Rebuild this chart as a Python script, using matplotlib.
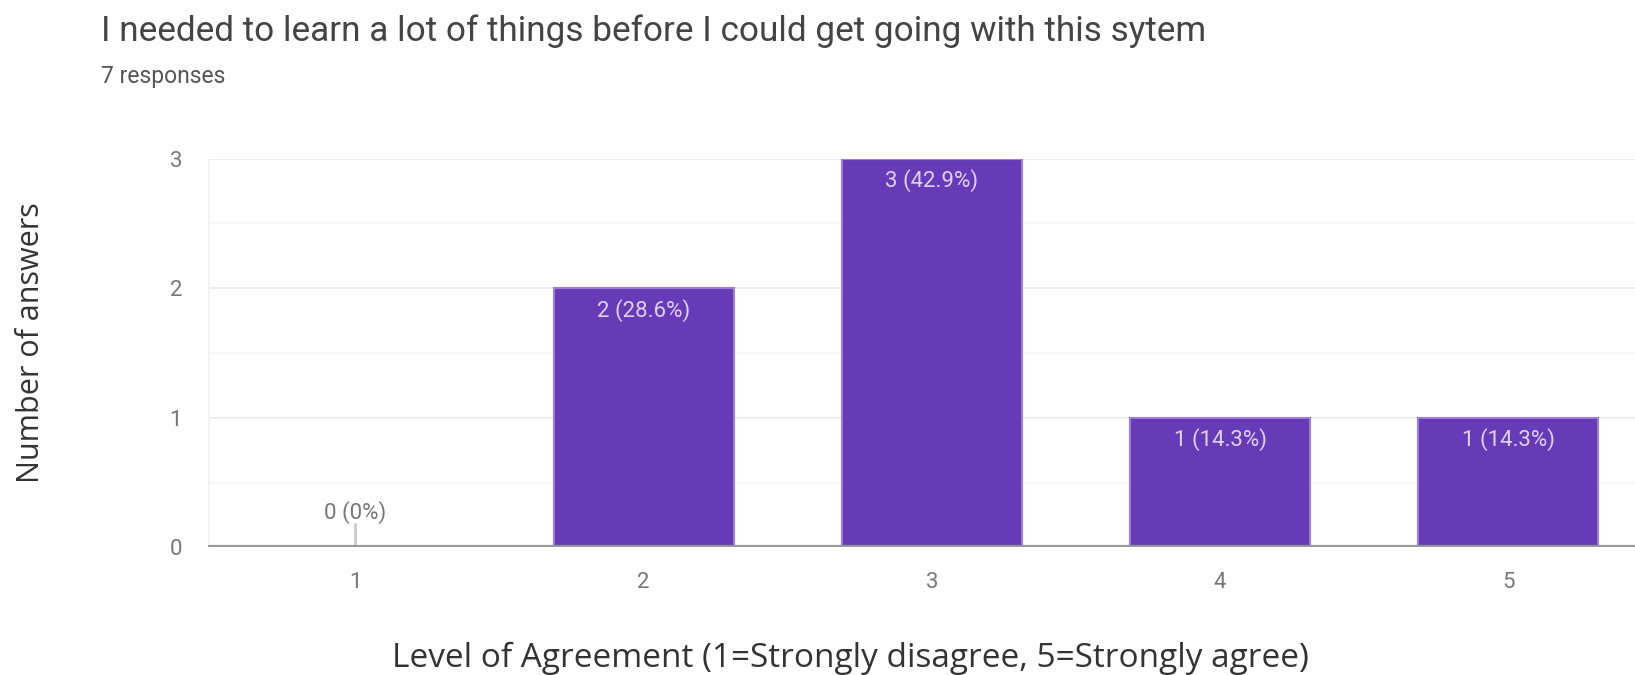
import matplotlib
matplotlib.use("Agg")
import matplotlib.pyplot as plt

# survey answers
levels = [1, 2, 3, 4, 5]
answers = [0, 2, 3, 1, 1]
total = 7
percents = ["0%", "28.6%", "42.9%", "14.3%", "14.3%"]

purple = "#673ab7"
edge = "#9c7fd4"

fig = plt.figure(figsize=(16.35, 6.75), dpi=100)
ax = fig.add_axes([0.1275, 0.189, 0.8725, 0.576])

# grid lines (major at whole numbers, faint ones at halves)
for y in [0.5, 1.5, 2.5]:
    ax.axhline(y, color="#f7f7f7", lw=1.5, zorder=0)
for y in [1, 2, 3]:
    ax.axhline(y, color="#ececec", lw=1.5, zorder=0)
ax.axvline(0.49, color="#f2f2f2", lw=2, zorder=0)

bars = ax.bar(levels, answers, width=0.625, color=purple, edgecolor=edge, linewidth=1.5, zorder=2)

for x, n, p in zip(levels, answers, percents):
    lab = str(n) + " (" + p + ")"
    if n == 0:
        ax.plot([x, x], [0, 0.18], color="#cccccc", lw=2, zorder=3)
        ax.text(x, 0.27, lab, ha="center", va="center", fontsize=16, color="#777777", family="Roboto")
    else:
        ax.text(x, n - 0.17, lab, ha="center", va="center", fontsize=16, color="#ddd3f0", family="Roboto", zorder=4)

ax.axhline(0, color="#999999", lw=3, zorder=3)

ax.set_xlim(0.49, 5.44)
ax.set_ylim(0, 3.0)
ax.set_yticks([0, 1, 2, 3])
ax.set_xticks(levels)
ax.tick_params(length=0, labelsize=16, labelcolor="#777777")
for t in ax.get_xticklabels() + ax.get_yticklabels():
    t.set_family("Roboto")
ax.tick_params(axis="x", pad=18)
ax.tick_params(axis="y", pad=19)
for s in ax.spines.values():
    s.set_visible(False)

fig.text(0.0618, 0.954, "I needed to learn a lot of things before I could get going with this sytem",
         fontsize=25.3, color="#444444", family="Roboto", va="center")
fig.text(0.0618, 0.887, "7 responses", fontsize=16.5, color="#555555", family="Roboto", va="center")

fig.text(0.019, 0.493, "Number of answers", rotation=90, fontsize=22, color="#333333",
         family="Open Sans", ha="center", va="center")
fig.text(0.52, 0.024, "Level of Agreement (1=Strongly disagree, 5=Strongly agree)", fontsize=24,
         color="#333333", family="Open Sans", ha="center", va="center")

fig.savefig("out.png", dpi=100)
